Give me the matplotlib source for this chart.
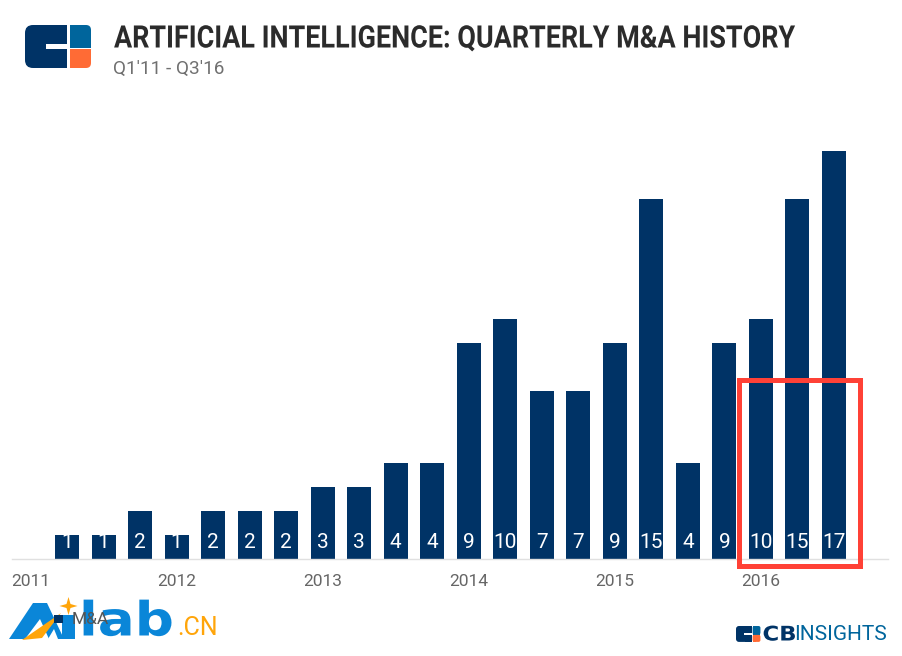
import matplotlib
matplotlib.use('Agg')
import matplotlib.pyplot as plt
from matplotlib.patches import Rectangle, Polygon, FancyBboxPatch
from matplotlib.patheffects import AbstractPathEffect
from matplotlib.text import Text
from matplotlib.transforms import Affine2D, Bbox

plt.rcParams['font.family'] = ['Roboto', 'DejaVu Sans']

values = [1, 1, 2, 1, 2, 2, 2, 3, 3, 4, 4, 9, 10, 7, 7, 9, 15, 4, 9, 10, 15, 17]
year_labels = ['2011', '2012', '2013', '2014', '2015', '2016']
year_ticks = [-1, 3, 7, 11, 15, 19]

NAVY = '#003366'
W, H = 903, 656


class XScale(AbstractPathEffect):
    # squeeze or widen glyphs sideways, no condensed font is installed
    def __init__(self, sx, x0):
        self.sx = sx
        self.x0 = x0

    def draw_path(self, renderer, gc, tpath, affine, rgbFace=None):
        t = affine + Affine2D().translate(-self.x0, 0).scale(self.sx, 1).translate(self.x0, 0)
        renderer.draw_path(gc, tpath, t, rgbFace)


class ScaledText(Text):
    # text whose reported extent follows the XScale effect
    def __init__(self, x, y, s, sx, **kw):
        super().__init__(x, y, s, **kw)
        self.sx = sx
        self.set_path_effects([XScale(sx, x)])

    def get_window_extent(self, renderer=None, dpi=None):
        bb = super().get_window_extent(renderer, dpi)
        return Bbox.from_extents(bb.x0, bb.y0, bb.x0 + bb.width * self.sx, bb.y1)


fig = plt.figure(figsize=(W / 100, H / 100), dpi=100)

# chart axes, placed so the baseline and bars land where they do in the reference
ax = fig.add_axes([12 / W, 1 - 559 / H, (888 - 12) / W, (559 - 151) / H])
xs = list(range(len(values)))
ax.bar(xs, values, width=0.657, color=NAVY, zorder=2)
ax.set_xlim(-1.506, 22.48)
ax.set_ylim(0, 17)
for s in ['top', 'left', 'right']:
    ax.spines[s].set_visible(False)
ax.spines['bottom'].set_color('#e0e0e0')
ax.spines['bottom'].set_linewidth(1)
ax.set_yticks([])
ax.set_xticks(year_ticks)
ax.set_xticklabels(year_labels, fontsize=12.5, color='#666666', fontweight='normal')
ax.tick_params(axis='x', length=0, pad=11)
for x, v in zip(xs, values):
    ax.text(x, 0.68, str(v), color='white', ha='center', va='center',
            fontsize=15, fontweight='normal', zorder=3)

# overlay in pixel coordinates for title, logos and the highlight box
ov = fig.add_axes([0, 0, 1, 1])
ov.set_xlim(0, W)
ov.set_ylim(H, 0)
ov.axis('off')
ov.patch.set_alpha(0)

# the path effect works in display pixels, and the overlay is 1:1 with them
ov.add_artist(ScaledText(114, 38.5, 'ARTIFICIAL INTELLIGENCE: QUARTERLY M&A HISTORY', 0.871,
                         fontsize=22.3, fontweight='bold', color='#2b2b2b',
                         va='center', ha='left'))
ov.text(113.5, 69, "Q1'11 - Q3'16", fontsize=13.7, fontweight='normal', color='#707070',
        va='center', ha='left')


def cb_logo(x, y, s):
    # s = 1 is the size of the big logo top left (66 x 43 px)
    ov.add_patch(FancyBboxPatch((x, y), 42 * s, 43 * s,
                                boxstyle='round,pad=0,rounding_size=%f' % (8 * s),
                                fc=NAVY, ec='none'))
    ov.add_patch(Rectangle((x + 25 * s, y), 17 * s, 43 * s, fc=NAVY, ec='none'))
    ov.add_patch(Rectangle((x + 21 * s, y + 18.5 * s), 22 * s, 5 * s, fc='white', ec='none'))
    ov.add_patch(FancyBboxPatch((x + 45 * s, y), 21 * s, 23 * s,
                                boxstyle='round,pad=0,rounding_size=%f' % (5 * s),
                                fc='#00659c', ec='none'))
    ov.add_patch(Rectangle((x + 45 * s, y), 8 * s, 23 * s, fc='#00659c', ec='none'))
    ov.add_patch(Rectangle((x + 45 * s, y + 10 * s), 21 * s, 13 * s, fc='#00659c', ec='none'))
    ov.add_patch(FancyBboxPatch((x + 45 * s, y + 24 * s), 21 * s, 19 * s,
                                boxstyle='round,pad=0,rounding_size=%f' % (5 * s),
                                fc='#ff6b35', ec='none'))
    ov.add_patch(Rectangle((x + 45 * s, y + 24 * s), 21 * s, 10 * s, fc='#ff6b35', ec='none'))
    ov.add_patch(Rectangle((x + 45 * s, y + 24 * s), 8 * s, 19 * s, fc='#ff6b35', ec='none'))


cb_logo(25, 25, 1)
cb_logo(736, 626, 0.37)
ov.add_artist(ScaledText(762.5, 635, 'CB', 1.13, family=['DejaVu Sans'], fontsize=14.5,
                         fontweight='bold', color=NAVY, va='center', ha='left'))
ov.text(794.5, 635, 'INSIGHTS', fontsize=15, fontweight='normal', color='#00659c', va='center', ha='left')

# highlight box
ov.add_patch(Rectangle((739.5, 379.5), 121, 186, fc='none', ec='#ff4136', lw=3.6,
                       joinstyle='miter', zorder=5))

# AIlab watermark
BLUE = '#0a86d8'
ORANGE = '#ffa50a'
ov.add_patch(Polygon([(9, 639), (33, 603), (47, 603), (64, 639), (49, 639), (40, 619), (25, 639)],
                     fc=BLUE, ec='none'))
ov.add_patch(Rectangle((62, 615), 13, 24, fc=BLUE, ec='none'))
ov.add_patch(Polygon([(48, 639), (54, 629), (58, 639)], fc='white', ec='none'))
ov.add_patch(Polygon([(22, 640), (61, 613), (42, 638)], fc=ORANGE, ec='none'))
ov.add_patch(Polygon([(68.5, 597), (70.5, 604), (77.5, 606), (70.5, 608), (68.5, 615), (66.5, 608),
                      (59.5, 606), (66.5, 604)], fc=ORANGE, ec='none'))
ov.add_artist(ScaledText(79, 623, 'lab', 1.16, family=['DejaVu Sans'], fontsize=34, fontweight='bold',
                         color=BLUE, va='center', ha='left'))
ov.text(177, 628, '.CN', fontsize=18, color=ORANGE, va='center', ha='left')

# legend that sits on top of the watermark
ov.add_patch(Rectangle((54, 615), 9, 8, fc=NAVY, ec='none'))
ov.text(72, 619, 'M&A', fontsize=12.5, fontweight='normal', color='#555555', va='center', ha='left')

fig.savefig('out.png', dpi=100)
